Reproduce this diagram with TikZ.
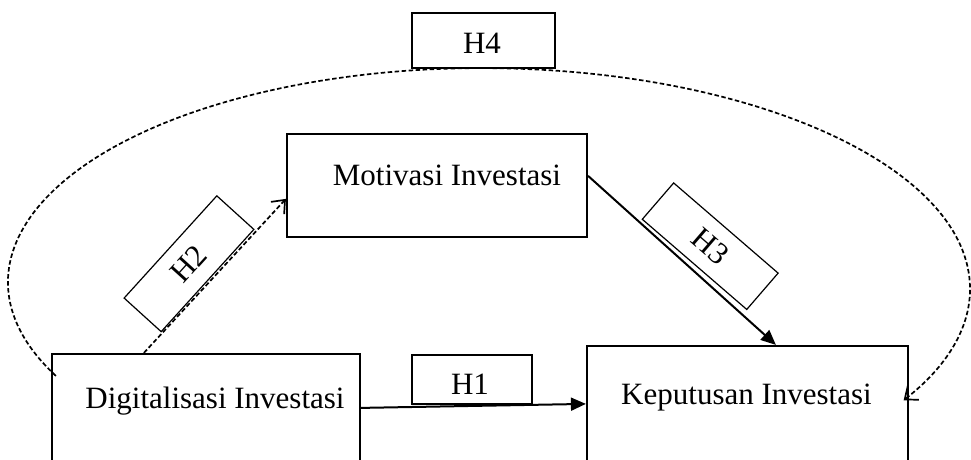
\documentclass[tikz,border=0pt]{standalone}
\usepackage{fontspec}
\setmainfont{Liberation Serif}
\usetikzlibrary{arrows.meta,calc}
\begin{document}
\begin{tikzpicture}[x=1pt,y=1pt,
  bigbox/.style={draw, line width=2.2pt, rectangle, inner sep=0pt},
  hbox/.style={draw, line width=1.4pt, rectangle, inner sep=0pt},
  rbox/.style={draw, line width=1.2pt, rectangle, inner sep=0pt, font=\fontsize{31}{36}\selectfont},
  txt/.style={font=\fontsize{31}{36}\selectfont, inner sep=0pt, anchor=base},
  solidarrow/.style={line width=2pt, -{Triangle[length=15pt,width=13pt]}},
  dasharrow/.style={line width=1.7pt, dash pattern=on 4.5pt off 2.5pt, -{Straight Barb[length=11pt,width=18pt,line width=1.7pt]}}]
\clip (0,0) rectangle (971,459);
\fill[white] (0,0) rectangle (971,459);
% boxes
\node[bigbox, minimum width=308pt, minimum height=125pt] (dig) at (206,42.5) {};
\node[bigbox, minimum width=321pt, minimum height=133pt] (kep) at (747.5,46.5) {};
\node[bigbox, minimum width=300pt, minimum height=103pt] (mot) at (437,273.5) {};
\node[hbox, minimum width=143pt, minimum height=55pt] (h4) at (483.5,418.5) {};
\node[hbox, minimum width=120pt, minimum height=49pt] (h1) at (472,79.5) {};
\node[rbox, minimum width=138pt, minimum height=50pt, rotate=47.8] (h2) at (189,195.25) {H2};
\node[rbox, minimum width=138pt, minimum height=48pt, rotate=-40.8] (h3) at (710.2,212.8) {H3};
% texts
\node[txt] (motT) at (447,274) {Motivasi Investasi};
\node[txt] (digT) at (215,51) {Digitalisasi Investasi};
\node[txt] (kepT) at (746.5,55) {Keputusan Investasi};
\node[txt] (h4T) at (482,405) {H4};
\node[txt] (h1T) at (470,64.7) {H1};
% connectors
\draw[solidarrow] ($(dig.north east)+(0,-55)$) -- ($(kep.north west)+(0,-59)$);
\draw[dasharrow] ($(dig.north west)+(93,0)$) -- ($(mot.north west)+(0,-66)$);
\draw[solidarrow] ($(mot.north east)+(0,-43)$) -- ($(kep.north west)+(190,0)$);
\draw[dasharrow] ($(dig.north west)+(5,-23)$)
  arc[start angle=206, end angle=90, x radius=473, y radius=214]
  arc[start angle=90, end angle=-30.2, x radius=489, y radius=221];
\end{tikzpicture}
\end{document}
